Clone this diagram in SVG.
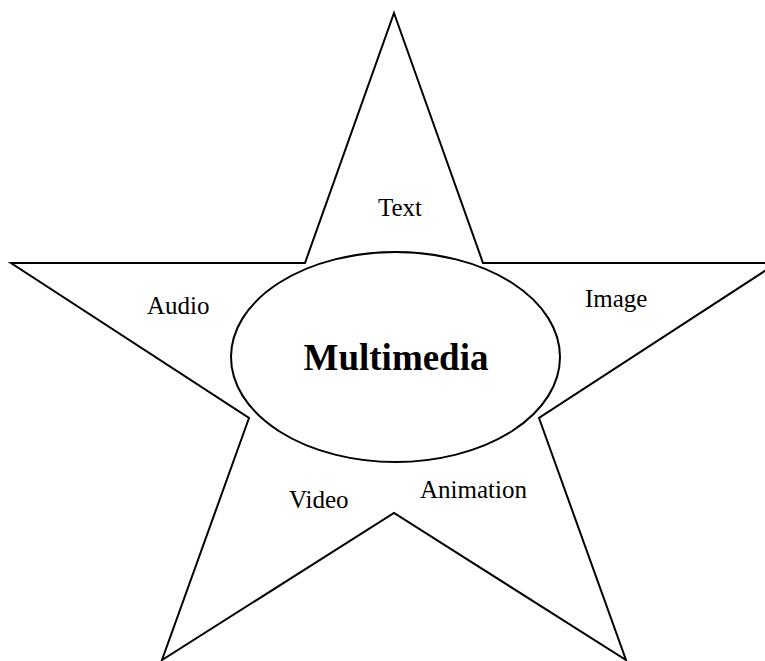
<svg xmlns="http://www.w3.org/2000/svg" width="765" height="661" viewBox="0 0 765 661">
<style>
.edge{fill:none;stroke:#000;stroke-width:2;stroke-linejoin:miter}
.lbl{font-family:"Liberation Serif","Times New Roman",serif;font-size:25px;fill:#000}
.title{font-family:"Liberation Serif","Times New Roman",serif;font-size:37px;font-weight:bold;fill:#000}
</style>
<rect width="765" height="661" fill="#fff"/>
<g id="star">
<polygon class="edge" points="394,13 483,263 777,263 539,418 626,660 394,513 162,660 249,418 11,263 305,263"/>
</g>
<g id="center">
<ellipse class="edge" cx="395.5" cy="357" rx="164.5" ry="105" fill="#fff"/>
<text class="title" x="396" y="370" text-anchor="middle">Multimedia</text>
</g>
<g id="text"><text class="lbl" x="400" y="216" text-anchor="middle">Text</text></g>
<g id="audio"><text class="lbl" x="147" y="314">Audio</text></g>
<g id="image"><text class="lbl" x="585" y="307">Image</text></g>
<g id="video"><text class="lbl" x="289" y="508">Video</text></g>
<g id="animation"><text class="lbl" x="420" y="498">Animation</text></g>
</svg>
